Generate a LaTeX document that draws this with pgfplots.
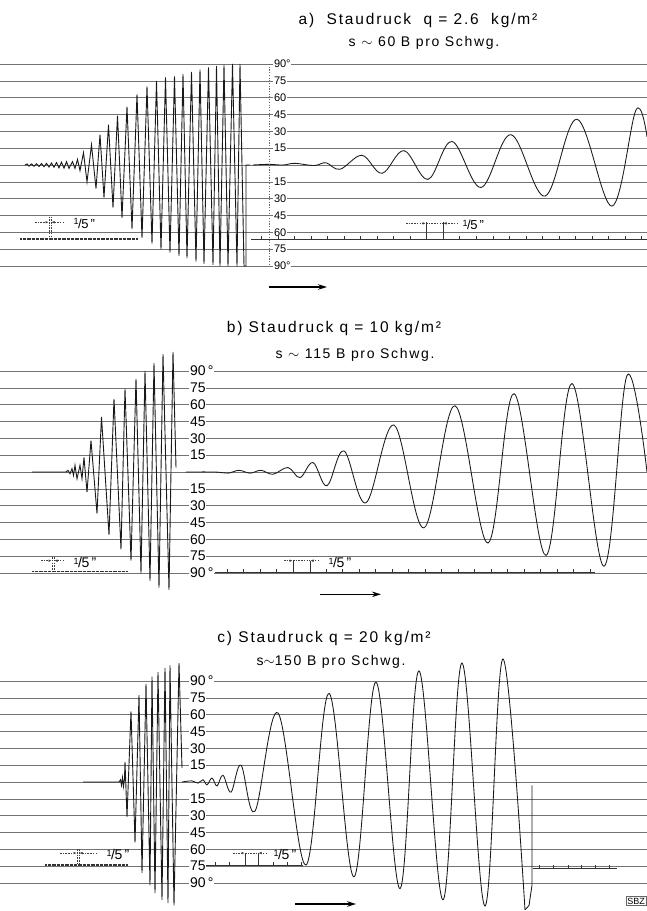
\documentclass[border=0pt]{standalone}
\usepackage{fontspec}
\setmainfont{Liberation Sans}
\newfontfamily\tfont[LetterSpace=12]{Liberation Sans}
\usepackage{pgfplots}
\pgfplotsset{compat=1.18}
\usetikzlibrary{arrows.meta}

\pgfplotsset{
  panel/.style={
    scale only axis, width=647pt, height=202pt,
    xmin=0, xmax=647, ymin=-90, ymax=90,
    axis line style={draw=none},
    xtick=\empty, ytick={-90,-75,...,90}, yticklabels={},
    major tick length=0pt,
    ymajorgrids, grid style={black!55, line width=0.6pt},
    clip=false, anchor=north west,
  },
  trace/.style={black!90, line width=0.85pt, no markers},
  wave/.style={trace, smooth, tension=0.6},
  tbase/.style={black!80, line width=1.2pt, dash pattern=on 0.9pt off 0.4pt, no markers},
  tline/.style={black!80, line width=0.6pt, no markers},
  tticks/.style={only marks, mark=|, mark size=1.4pt, black!80, mark options={line width=0.6pt}},
}
\tikzset{
  lab/.style={anchor=west, fill=white, inner sep=0.8pt},
  mk/.style={black!75, line width=0.5pt, dash pattern=on 1.5pt off 1.2pt},
  tip/.style={-{Latex[length=3pt,width=2.6pt]}},
  bigarrow/.style={-{Stealth[length=9pt,width=5.5pt]}, line width=1.6pt},
}
% angle labels in the middle of a panel
\newcommand{\anglabels}[3]{%
  \node[lab, font=#2] at (axis cs:#1,90) {90#3°};
  \node[lab, font=#2] at (axis cs:#1,-90) {90#3°};
  \pgfplotsinvokeforeach{75,60,45,30,15}{
    \node[lab, font=#2] at (axis cs:#1,##1) {##1};
    \node[lab, font=#2] at (axis cs:#1,-##1) {##1};
  }
}
\newcommand{\fifth}{{\raisebox{0.45ex}{\fontsize{9}{9}\selectfont 1}\kern-0.4pt/\kern-0.4pt5\,"}}

\begin{document}
\begin{tikzpicture}
\useasboundingbox (0,0) rectangle (647pt,-911pt);

% ---------------- a) ----------------
\begin{axis}[panel, at={(0pt,-64pt)}]
\addplot[trace, line width=0.9pt] coordinates {
 (25,0)(27,1)(29,-1)(31.5,1)(34,-1.2)(36.5,1.2)(39,-1.3)(41.5,1.3)(44,-1.5)(46.5,1.5)
 (49,-1.8)(51.5,1.8)(54,-2)(56.5,2.2)(59,-2.5)(61.5,2.5)(64,-2.8)(66.5,3)(69,-3)(72.5,3)
 (75,-3)(77.5,5)(80,-5)(83.5,11)(87,-15)(91.5,18)(96,-21)(100,27)(104,-29)(108.5,36)
 (113,-38)(117.5,44)(122,-47)(127,52)(132,-57)(137,63)(142,-65)(147,70)(152,-70)(156.5,75)
 (161,-75)(165.5,78)(170,-78)(174.5,79)(179,-81)(183,81)(187,-83)(191.5,83)(196,-86)(200,85)
 (204,-88)(208.5,87)(213,-89)(216.5,88)(220,-90)(224,89)(228,-90)(232.5,90)(237,-90)(240,90)
 (244,-90)(246,-90)(246,0)(250,0)};
\addplot[wave] coordinates {
 (253,0)(269,0.6)(283,0)(295,1.5)(314,-0.5)(326,2)(340,-3.8)(362,8.6)(382,-7.4)(404,12.8)
 (428,-12.8)(452,21)(481,-20)(511,27)(545,-27.7)(577,40.8)(612,-36.6)(636,49)(647,25)};
% time bases
\addplot[tbase] coordinates {(20,-66)(138,-66)};
\addplot[tline] coordinates {(251,-66)(647,-66)};
\addplot[tticks] coordinates {
 (261,-64.7)(278,-64.7)(294,-64.7)(311,-64.7)(327,-64.7)(344,-64.7)(360,-64.7)(377,-64.7)
 (393,-64.7)(410,-64.7)(459,-64.7)(476,-64.7)(493,-64.7)(509,-64.7)(526,-64.7)(542,-64.7)
 (559,-64.7)(575,-64.7)(592,-64.7)(608,-64.7)(625,-64.7)(641,-64.7)};
\addplot[tline] coordinates {(426,-66)(426,-51)};
\addplot[tline] coordinates {(443,-66)(443,-51)};
\draw[black!60, line width=0.5pt, dash pattern=on 1.2pt off 1.5pt] (axis cs:269,90) -- (axis cs:269,-90);
\draw[mk] (axis cs:49,-46) -- (axis cs:49,-67);
\draw[mk] (axis cs:51,-46) -- (axis cs:51,-67);
\draw[mk, tip] (axis cs:35,-51) -- (axis cs:48.5,-51);
\draw[mk, tip] (axis cs:64,-51) -- (axis cs:51.5,-51);
\node[anchor=west, font=\fontsize{13}{13}\selectfont] at (axis cs:70,-52) {\fifth};
\draw[mk, tip] (axis cs:406,-52) -- (axis cs:425.5,-52);
\draw[mk] (axis cs:426,-52) -- (axis cs:443,-52);
\draw[mk, tip] (axis cs:458,-52) -- (axis cs:443.5,-52);
\node[anchor=west, font=\fontsize{13}{13}\selectfont] at (axis cs:459,-53) {\fifth};
\anglabels{273}{\fontsize{11}{12}\selectfont}{}
\draw[bigarrow] (axis cs:269,-108.7) -- (axis cs:327,-108.7);
\end{axis}

% ---------------- b) ----------------
\begin{axis}[panel, at={(0pt,-371pt)}]
\addplot[trace, line width=0.9pt] coordinates {
 (32,0)(66,0)(68,1.5)(70,-1.5)(72,3)(73.5,-3)(75,6)(77,-6)(80,6)(82,-6)(84,13)(87,-18)
 (91,28)(97,-37)(101.5,49)(109,-56)(114,65)(121,-69)(125,74)(131,-79)(136,83)(141,-90)
 (145,90)(150,-97)(154,97)(159,-103)(163,105)(169,-105)(173,107)(176,4)};
\addplot[wave] coordinates {
 (186,0)(215,0)(228,-1)(239,1.5)(250,-1)(261,1.5)(273,-2)(288,4)(300,-5)(313,8.4)(327,-12.2)
 (344,18.8)(366,-27.4)(394,41.8)(424,-49.8)(455,59)(488,-63.3)(514,69.8)(546,-74.3)
 (572,78.8)(604,-83.9)(627,86)(647,0)};
\addplot[tbase] coordinates {(32,-89)(127,-89)};
\addplot[tline] coordinates {(215,-89)(595,-89)};
\addplot[tticks] coordinates {
 (227,-87.7)(243,-87.7)(260,-87.7)(276,-87.7)(326,-87.7)(342,-87.7)(359,-87.7)(375,-87.7)
 (392,-87.7)(408,-87.7)(425,-87.7)(441,-87.7)(458,-87.7)(474,-87.7)(491,-87.7)(507,-87.7)
 (524,-87.7)(540,-87.7)(557,-87.7)(573,-87.7)(590,-87.7)};
\addplot[tline] coordinates {(293,-89)(293,-79)};
\addplot[tline] coordinates {(310,-89)(310,-79)};
\draw[mk] (axis cs:52,-76) -- (axis cs:52,-88);
\draw[mk] (axis cs:54,-76) -- (axis cs:54,-88);
\draw[mk, tip] (axis cs:41,-79) -- (axis cs:51.5,-79);
\draw[mk, tip] (axis cs:64,-79) -- (axis cs:54.5,-79);
\node[anchor=west, font=\fontsize{14}{14}\selectfont] at (axis cs:70,-81) {\fifth};
\draw[mk, tip] (axis cs:284,-79) -- (axis cs:292.5,-79);
\draw[mk] (axis cs:293,-79) -- (axis cs:310,-79);
\draw[mk, tip] (axis cs:319,-79) -- (axis cs:310.5,-79);
\node[anchor=west, font=\fontsize{14}{14}\selectfont] at (axis cs:325,-81) {\fifth};
\anglabels{189}{\fontsize{14}{14}\selectfont}{\,}
\draw[bigarrow] (axis cs:320,-109) -- (axis cs:381,-109);
\end{axis}

% ---------------- c) ----------------
\begin{axis}[panel, at={(0pt,-681pt)}]
\addplot[trace, line width=0.9pt] coordinates {
 (83,0)(119,0)(120.5,2)(121.5,-3)(122.5,4)(123.5,-4)(124.5,3)(125,18)(127,-31)(131,63)
 (135,-54)(139,77.5)(142,-81)(146,87.5)(150,-92)(152,94)(155,-99)(158,98)(162,-105)
 (165,101.6)(168,-108)(170,104)(174,-110)(179,106)(182,12.5)};
\addplot[wave] coordinates {
 (182,0)(192,1)(198,-1)(203,2)(207,-2.5)(212,3.5)(217,-3.5)(223,6)(231,-9)(241,15)(255,-26)
 (278,61.5)(306,-74)(329,79)(354,-84.5)(376,89)(400,-95)(419,99)(443,-105)(462,106)
 (485,-110.5)(503,109.6)(525,-114)};
\addplot[trace] coordinates {(525,-114)(529,-110)(532,-92)(532,-3)};
\addplot[tbase] coordinates {(45,-74)(128,-74)};
\addplot[tline] coordinates {(205,-74)(303,-74)};
\addplot[tticks] coordinates {(215,-72.7)(229,-72.7)(273,-72.7)(287,-72.7)(301,-72.7)};
\addplot[tline] coordinates {(245,-74)(245,-63)};
\addplot[tline] coordinates {(258,-74)(258,-63)};
\addplot[tline] coordinates {(533,-76.6)(617,-76.6)};
\addplot[tticks] coordinates {(539,-75.3)(553,-75.3)(568,-75.3)(581,-75.3)(595,-75.3)(609,-75.3)};
\draw[mk] (axis cs:77,-60) -- (axis cs:77,-74);
\draw[mk] (axis cs:79,-60) -- (axis cs:79,-74);
\draw[mk, tip] (axis cs:60,-63.3) -- (axis cs:76.5,-63.3);
\draw[mk, tip] (axis cs:97,-63.3) -- (axis cs:79.5,-63.3);
\node[anchor=west, font=\fontsize{14}{14}\selectfont] at (axis cs:103,-65) {\fifth};
\draw[mk, tip] (axis cs:233,-63.3) -- (axis cs:244.5,-63.3);
\draw[mk] (axis cs:245,-63.3) -- (axis cs:258,-63.3);
\draw[mk, tip] (axis cs:267,-63.3) -- (axis cs:258.5,-63.3);
\node[anchor=west, font=\fontsize{14}{14}\selectfont] at (axis cs:270,-65) {\fifth};
\anglabels{189}{\fontsize{14}{14}\selectfont}{\,}
\draw[bigarrow] (axis cs:295,-108.7) -- (axis cs:356,-108.7);
\node[draw=black!60, inner sep=1.2pt, font=\fontsize{9}{9}\selectfont] at (axis cs:636,-106) {SBZ};
\end{axis}

% titles
\node[font=\tfont\fontsize{15.5}{17}\selectfont] at (418pt,-20pt) {a)\ \ Staudruck\ \ q = 2.6\ \ kg/m²};
\node[font=\tfont\fontsize{14}{16}\selectfont] at (424pt,-43pt) {s $\sim$ 60 B pro Schwg.};
\node[font=\tfont\fontsize{15.5}{17}\selectfont] at (334pt,-328pt) {b) Staudruck q = 10 kg/m²};
\node[font=\tfont\fontsize{14}{16}\selectfont] at (355pt,-355pt) {s $\sim$ 115 B pro Schwg.};
\node[font=\tfont\fontsize{15.5}{17}\selectfont] at (324pt,-638pt) {c) Staudruck q = 20 kg/m²};
\node[font=\tfont\fontsize{14}{16}\selectfont] at (331pt,-662pt) {s$\sim$150 B pro Schwg.};
\end{tikzpicture}
\end{document}
